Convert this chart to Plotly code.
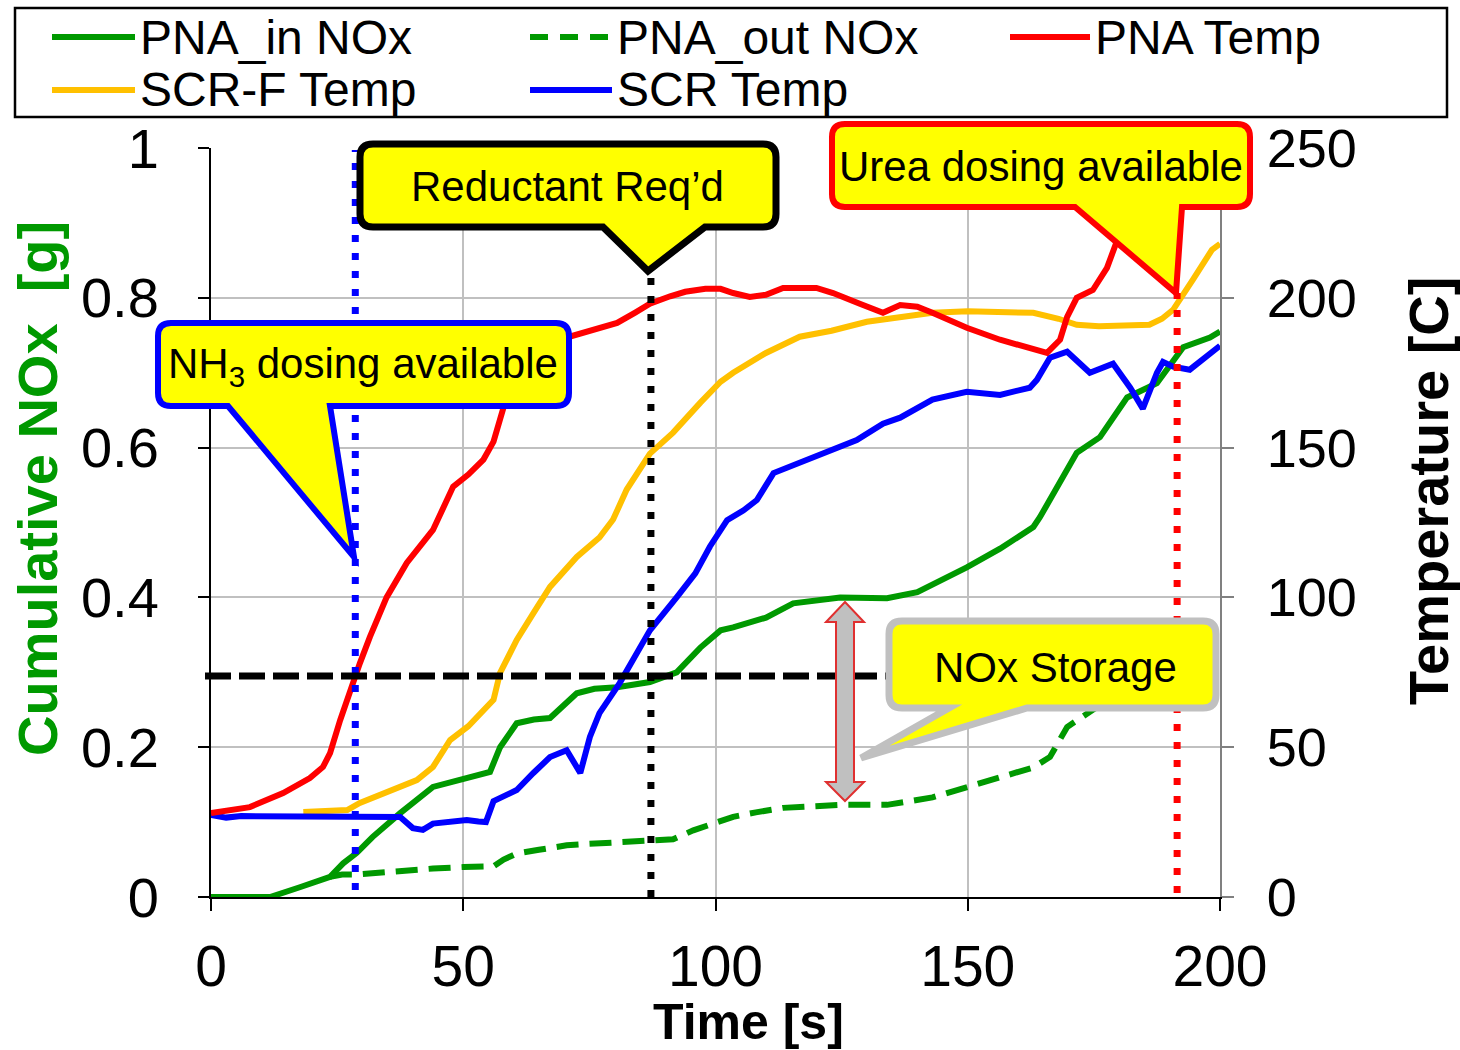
import plotly.graph_objects as go

# ---------------- data ----------------
pna_in_t = [0, 5, 11.7, 17.6, 23.6, 26.2, 28.9, 32, 37.5, 44, 50.7, 55.3, 57.3, 60.6, 64, 67.2,
            72.5, 76, 80.5, 87, 92.3, 97, 101, 103.5, 110, 115.4, 124.7, 134, 140, 149.8, 156.4,
            163, 164.3, 168, 171.6, 176.2, 181.6, 187.5, 192.7, 198, 200]
pna_in_v = [0, 0, 0, 0.013, 0.027, 0.045, 0.059, 0.08, 0.112, 0.147, 0.16, 0.167, 0.2, 0.232, 0.237, 0.239,
            0.272, 0.278, 0.28, 0.287, 0.3, 0.333, 0.356, 0.36, 0.373, 0.392, 0.4, 0.399, 0.407, 0.44, 0.465,
            0.494, 0.507, 0.55, 0.593, 0.614, 0.667, 0.686, 0.734, 0.747, 0.755]

pna_out_t = [23.6, 26, 28.9, 32, 37.5, 44, 50, 56, 58, 60.6, 65, 70.5, 75, 80.5, 88, 91.6, 95.6,
             101, 103.5, 108, 113.4, 124.7, 134, 143, 153, 163, 166.3, 169.7, 174.8, 176, 180,
             185, 190, 195, 200]
pna_out_v = [0.027, 0.03, 0.03, 0.032, 0.034, 0.038, 0.04, 0.041, 0.05, 0.058, 0.063, 0.069, 0.071,
             0.073, 0.075, 0.077, 0.089, 0.101, 0.107, 0.113, 0.119, 0.123, 0.123, 0.133, 0.153,
             0.173, 0.187, 0.227, 0.25, 0.255, 0.28, 0.31, 0.33, 0.35, 0.36]

pna_temp_t = [0, 7.7, 14.3, 19.6, 22.2, 23.6, 25.6, 27.6, 29.5, 31.5, 34.8, 38.8, 44, 48, 51, 54, 56,
              58, 62, 66, 71, 76, 80.5, 84, 87, 91, 94, 98, 101, 103.5, 106.8, 110, 113.4, 120, 123.3,
              128.6, 133.2, 136.6, 140, 143, 149.8, 156.4, 163, 165.7, 168.3, 169.7, 171.6, 174.8,
              177.6, 179.6, 182, 186, 192, 200]
pna_temp_v = [28, 30, 34.7, 39.7, 43.4, 48, 59, 69, 78, 86.8, 100, 111.5, 122.5, 137, 141, 146, 152,
              163.5, 172, 180, 187, 189.5, 191.6, 195, 198, 200.5, 202, 203, 203, 201.6, 200.3, 201,
              203.3, 203.3, 201.6, 198, 195, 197.6, 197, 195, 190, 186, 182.6, 181.6, 186, 193.6, 200,
              202.6, 210, 219, 230, 238, 243, 246]

scrf_temp_t = [18.3, 22, 27, 29.5, 34.8, 40.8, 44, 47.4, 51, 54, 56, 57.3, 60.6, 64, 67.2, 72.5, 77,
               79.7, 82.4, 87, 91.6, 97, 101, 103.5, 110, 116.7, 123, 130, 136, 143, 150, 156, 163,
               168, 171.6, 176, 181, 186, 188.5, 190.7, 194.6, 198.4, 200]
scrf_temp_v = [28.4, 28.6, 29, 31.4, 35, 39, 43.4, 52.4, 57, 62.4, 65.8, 74.8, 85.8, 95, 103.5, 113.5,
               120, 126, 136, 148, 155, 165, 172, 175, 181.6, 187, 189, 192, 193.5, 195, 195.5, 195.5,
               195, 193, 191, 190.5, 190.5, 191, 193, 196, 206, 216, 218]

scr_temp_t = [0, 3, 6, 20, 30, 37.5, 40, 42, 44, 47, 50.7, 53, 54.5, 56, 60.6, 63.9, 67.2, 70.5,
              73.2, 75.1, 77, 81, 84, 87, 92.3, 96, 98.9, 102.3, 105.5, 108.2, 111.5, 115.4, 120,
              124.7, 128, 133.2, 136.6, 143, 149.8, 156.4, 162.3, 163.7, 166.3, 169.7, 174.2, 178.8,
              182.2, 184.7, 187.5, 188.7, 190.7, 194, 198, 200]
scr_temp_v = [27.4, 26.5, 27, 27, 27, 26.7, 23, 22.4, 24.5, 25, 25.7, 25.2, 25, 32, 35.7, 41.4, 46.7,
              49, 41.4, 53.4, 61.4, 71.4, 80, 89, 100, 108, 117, 125.8, 129, 132.5, 141.5, 144, 147,
              150, 152.5, 158, 160, 166, 168.6, 167.6, 170, 172.6, 180, 182, 175, 178, 170, 163, 175,
              178.6, 177, 176, 181.6, 184]

series_names = ["PNA_in NOx", "PNA_out NOx", "PNA Temp", "SCR-F Temp", "SCR Temp"]
x_ticks = [0, 50, 100, 150, 200]
y_ticks = [0, 0.2, 0.4, 0.6, 0.8, 1]
y_ticklabels = ["0", "0.2", "0.4", "0.6", "0.8", "1"]
y2_ticks = [0, 50, 100, 150, 200, 250]

# event markers
nh3_time = 28.6
reductant_time = 87.2
urea_time = 191.5
storage_level = 0.295

GREEN = "#009900"
ORANGE = "#FFC000"
BLUE = "#0000FF"
RED = "#FF0000"
FONT = "Liberation Sans, Arial, sans-serif"

W, H = 1460, 1050
L, R, T, B = 211, 1220, 148, 897


def px(x):
    return (x - L) / (R - L)


def py(y):
    return (B - y) / (B - T)


def callout_path(x0, y0, x1, y1, r, bx0, bx1, tx, ty):
    pts = []
    pts.append(("M", [(x0 + r, y0)]))
    pts.append(("L", [(x1 - r, y0)]))
    pts.append(("Q", [(x1, y0), (x1, y0 + r)]))
    pts.append(("L", [(x1, y1 - r)]))
    pts.append(("Q", [(x1, y1), (x1 - r, y1)]))
    pts.append(("L", [(bx1, y1)]))
    pts.append(("L", [(tx, ty)]))
    pts.append(("L", [(bx0, y1)]))
    pts.append(("L", [(x0 + r, y1)]))
    pts.append(("Q", [(x0, y1), (x0, y1 - r)]))
    pts.append(("L", [(x0, y0 + r)]))
    pts.append(("Q", [(x0, y0), (x0 + r, y0)]))
    s = ""
    for cmd, ps in pts:
        s += cmd + " ".join(f"{px(a):.5f},{py(b):.5f}" for a, b in ps) + " "
    return s + "Z"


def poly_path(points):
    s = "M" + " L".join(f"{px(a):.5f},{py(b):.5f}" for a, b in points)
    return s + " Z"


fig = go.Figure()
fig.add_trace(go.Scatter(x=pna_in_t, y=pna_in_v, name=series_names[0], mode="lines",
                         line=dict(color=GREEN, width=6), yaxis="y"))
fig.add_trace(go.Scatter(x=pna_out_t, y=pna_out_v, name=series_names[1], mode="lines",
                         line=dict(color=GREEN, width=6, dash="22px,11px"), yaxis="y"))
fig.add_trace(go.Scatter(x=scrf_temp_t, y=scrf_temp_v, name=series_names[3], mode="lines",
                         line=dict(color=ORANGE, width=6), yaxis="y2"))
fig.add_trace(go.Scatter(x=scr_temp_t, y=scr_temp_v, name=series_names[4], mode="lines",
                         line=dict(color=BLUE, width=6), yaxis="y2"))
fig.add_trace(go.Scatter(x=pna_temp_t, y=pna_temp_v, name=series_names[2], mode="lines",
                         line=dict(color=RED, width=6), yaxis="y2"))

shapes = []
annotations = []

# vertical / horizontal marker lines
shapes.append(dict(type="line", xref="x", yref="paper", x0=nh3_time, x1=nh3_time, y0=py(890), y1=py(150),
                   line=dict(color=BLUE, width=7, dash="7px,11px"), layer="above"))
shapes.append(dict(type="line", xref="x", yref="paper", x0=reductant_time, x1=reductant_time, y0=0, y1=py(272),
                   line=dict(color="black", width=7, dash="7px,11px"), layer="above"))
shapes.append(dict(type="line", xref="x", yref="paper", x0=urea_time, x1=urea_time, y0=py(893), y1=py(293),
                   line=dict(color=RED, width=7, dash="7px,11px"), layer="above"))
shapes.append(dict(type="line", xref="paper", yref="y", x0=px(205), x1=px(890), y0=storage_level, y1=storage_level,
                   line=dict(color="black", width=7, dash="26px,8px"), layer="above"))

# double arrow (NOx storage)
cx = 845
arrow = [(cx, 602), (cx + 19, 622), (cx + 9, 622), (cx + 9, 782), (cx + 19, 782), (cx, 801),
         (cx - 19, 782), (cx - 9, 782), (cx - 9, 622), (cx - 19, 622)]
shapes.append(dict(type="path", xref="paper", yref="paper", path=poly_path(arrow),
                   fillcolor="#C0C0C0", line=dict(color="#E03030", width=2), layer="above"))

# callouts
callouts = [
    # (box x0,y0,x1,y1, pointer base x0,x1, tip x,y, border colour, width, text, text centre)
    (158, 323, 569, 406, 228, 330, 354, 557, BLUE, 6, "NH<sub>3</sub> dosing available", (363, 366)),
    (360, 144, 776, 227, 603, 705, 648, 271, "black", 7, "Reductant Req’d", (567, 187)),
    (832, 124, 1250, 207, 1075, 1182, 1176, 293, RED, 6, "Urea dosing available", (1041, 167)),
    (889, 621, 1216, 708, 949, 1027, 861, 758, "#C0C0C0", 7, "NOx Storage", (1055, 667)),
]
for (x0, y0, x1, y1, b0, b1, tx, ty, col, lw, txt, (tcx, tcy)) in callouts:
    shapes.append(dict(type="path", xref="paper", yref="paper",
                       path=callout_path(x0, y0, x1, y1, 13, b0, b1, tx, ty),
                       fillcolor="#FFFF00", line=dict(color=col, width=lw), layer="above"))
    annotations.append(dict(xref="paper", yref="paper", x=px(tcx), y=py(tcy), text=txt, showarrow=False,
                            xanchor="center", yanchor="middle",
                            font=dict(family=FONT, size=42, color="black")))

# manual legend
shapes.append(dict(type="rect", xref="paper", yref="paper", x0=px(15), x1=px(1447), y0=py(8), y1=py(117),
                   line=dict(color="black", width=2.5), fillcolor="white", layer="above"))
legend_items = [
    (series_names[0], GREEN, None, 52, 135, 37, 138),
    (series_names[1], GREEN, "18px,12px", 530, 612, 37, 615),
    (series_names[2], RED, None, 1010, 1090, 37, 1093),
    (series_names[3], ORANGE, None, 52, 135, 90, 138),
    (series_names[4], BLUE, None, 530, 612, 90, 615),
]
for name, col, dash, lx0, lx1, ly, tx in legend_items:
    ln = dict(color=col, width=6)
    if dash:
        ln["dash"] = dash
    shapes.append(dict(type="line", xref="paper", yref="paper", x0=px(lx0), x1=px(lx1), y0=py(ly), y1=py(ly),
                       line=ln, layer="above"))
    annotations.append(dict(xref="paper", yref="paper", x=px(tx), y=py(ly), text=name, showarrow=False,
                            xanchor="left", yanchor="middle",
                            font=dict(family=FONT, size=48, color="black")))

# axis titles
annotations.append(dict(xref="paper", yref="paper", x=px(37), y=py(489), text="<b>Cumulative NOx  [g]</b>",
                        showarrow=False, textangle=-90, xanchor="center", yanchor="middle",
                        font=dict(family=FONT, size=56, color=GREEN)))
annotations.append(dict(xref="paper", yref="paper", x=px(1428), y=py(491), text="<b>Temperature [C]</b>",
                        showarrow=False, textangle=-90, xanchor="center", yanchor="middle",
                        font=dict(family=FONT, size=56, color="black")))
annotations.append(dict(xref="paper", yref="paper", x=px(748), y=py(1022), text="<b>Time [s]</b>",
                        showarrow=False, xanchor="center", yanchor="middle",
                        font=dict(family=FONT, size=50, color="black")))

fig.update_layout(
    width=W, height=H, autosize=False,
    margin=dict(l=L, r=W - R, t=T, b=H - B, pad=0),
    paper_bgcolor="white", plot_bgcolor="white",
    showlegend=False,
    font=dict(family=FONT, color="black"),
    xaxis=dict(range=[0, 200], tickvals=x_ticks, showgrid=True, gridcolor="#C0C0C0", gridwidth=2,
               showline=True, linecolor="black", linewidth=2, ticks="outside", ticklen=12, tickwidth=2,
               tickcolor="black", tickfont=dict(size=57), ticklabelstandoff=7, zeroline=False),
    yaxis=dict(range=[0, 1], tickvals=y_ticks, ticktext=y_ticklabels, showgrid=True, gridcolor="#C0C0C0",
               gridwidth=2, showline=True, linecolor="black", linewidth=2, ticks="outside", ticklen=11,
               tickwidth=2, tickcolor="black", tickfont=dict(size=56), ticklabelstandoff=28, zeroline=False),
    yaxis2=dict(range=[0, 250], tickvals=y2_ticks, overlaying="y", side="right", showgrid=False,
                showline=True, linecolor="#808080", linewidth=2, ticks="outside", ticklen=12, tickwidth=2,
                tickcolor="#808080", tickfont=dict(size=54), ticklabelstandoff=22, zeroline=False),
    shapes=shapes,
    annotations=annotations,
)

fig.write_html("out.html")
